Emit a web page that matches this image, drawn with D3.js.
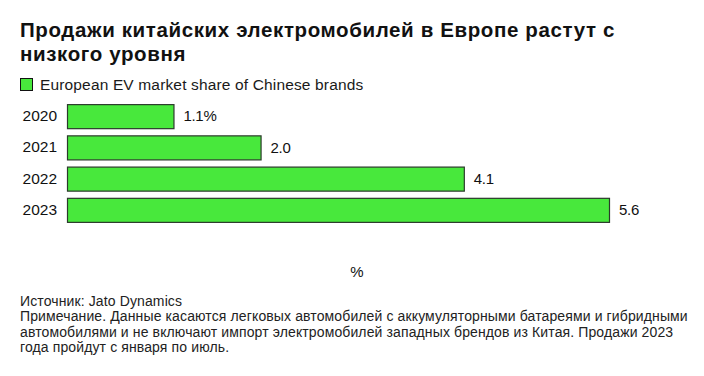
<!DOCTYPE html>
<html><head><meta charset="utf-8">
<script src="https://cdn.jsdelivr.net/npm/d3@7"></script>
<style>
body{margin:0;background:#fff;}
text{font-family:"Liberation Sans",Arial,sans-serif;}
</style></head>
<body><svg id="c" width="704" height="376"></svg>
<script>
const years = ["2020","2021","2022","2023"];
const shares = [1.1, 2.0, 4.1, 5.6];
const valueLabels = ["1.1%","2.0","4.1","5.6"];
const titleLines = ["Продажи китайских электромобилей в Европе растут с","низкого уровня"];
const legendLabel = "European EV market share of Chinese brands";
const axisLabel = "%";
const footerLines = [
 "Источник: Jato Dynamics",
 "Примечание. Данные касаются легковых автомобилей с аккумуляторными батареями и гибридными",
 "автомобилями и не включают импорт электромобилей западных брендов из Китая. Продажи 2023",
 "года пройдут с января по июль."
];

const svg = d3.select("#c");
const fill = "#48e83c", stroke = "#2b3a2b";

svg.selectAll(".title").data(titleLines).join("text")
  .attr("x",20).attr("y",(d,i)=>36.5+i*24)
  .attr("font-size",20.5).attr("letter-spacing",0.62).attr("font-weight","bold").attr("fill","#111").text(d=>d);

svg.append("rect").attr("x",20.5).attr("y",78.5).attr("width",12).attr("height",12)
  .attr("fill",fill).attr("stroke","#111");
svg.append("text").attr("x",40).attr("y",90).attr("font-size",15.5).attr("letter-spacing",0.15).attr("fill","#1a1a1a").text(legendLabel);

const x = d3.scaleLinear().domain([0,5.6]).range([67,609]);
const y = d3.scaleBand().domain(years).range([101,225]).paddingInner(0.23).paddingOuter(0.1);

svg.selectAll(".bar").data(years).join("rect")
  .attr("x",x(0)+0.5).attr("y",d=>y(d)+0.5)
  .attr("width",(d,i)=>x(shares[i])-x(0)).attr("height",y.bandwidth())
  .attr("fill",fill).attr("stroke",stroke).attr("stroke-width",1.2);

const ax = svg.append("g").attr("transform",`translate(${x(0)-10},0)`)
  .call(d3.axisLeft(y).tickSize(0).tickPadding(0));
ax.select(".domain").remove();
ax.selectAll("text").attr("font-size",15.5).attr("fill","#111").attr("font-family","Liberation Sans, Arial, sans-serif");

svg.selectAll(".val").data(years).join("text")
  .attr("x",(d,i)=>x(shares[i])+10).attr("y",d=>y(d)+y.bandwidth()/2).attr("dy","0.35em")
  .attr("font-size",15).attr("letter-spacing",-0.3).attr("fill","#111").text((d,i)=>valueLabels[i]);

svg.append("text").attr("x",357).attr("y",277).attr("text-anchor","middle")
  .attr("font-size",15).attr("fill","#111").text(axisLabel);

svg.selectAll(".foot").data(footerLines).join("text")
  .attr("x",20).attr("y",(d,i)=>305.5+i*15.6)
  .attr("font-size",14).attr("letter-spacing",0.12).attr("fill","#222").text(d=>d);
</script></body></html>
